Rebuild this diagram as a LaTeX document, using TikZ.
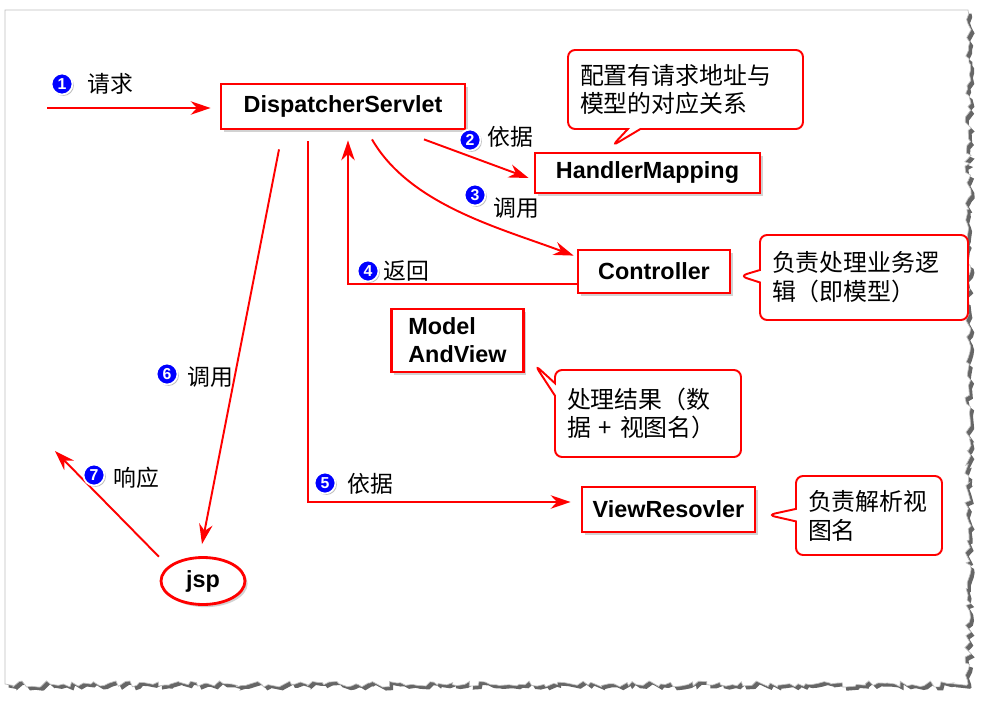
\documentclass[tikz,border=0pt]{standalone}
\usepackage{fontspec}
\setmainfont{Liberation Sans}
\newfontfamily\cjk{Noto Sans CJK SC}
\usetikzlibrary{arrows.meta,shapes.geometric,shapes.callouts,shadows,decorations.pathmorphing}
\tikzset{
	box/.style={draw=red,line width=1.6pt,fill=white,inner sep=0pt,
		drop shadow={shadow xshift=1.5pt,shadow yshift=-1.5pt,opacity=.35},
		font=\bfseries\fontsize{13.3}{16}\selectfont},
	note/.style={rectangle callout,draw=red,line width=1.1pt,fill=white,rounded corners=4pt,
		align=left,inner xsep=0.24cm,font=\cjk\fontsize{13.6}{16.4}\selectfont},
	flow/.style={draw=red,line width=1.1pt,-{Stealth[length=0.4cm,width=0.27cm]}},
	num/.style={circle,fill=blue,draw=white,line width=1pt,text=white,inner sep=0pt,
		minimum size=0.42cm,font=\bfseries\fontsize{9}{9}\selectfont,
		drop shadow={shadow xshift=.8pt,shadow yshift=-.8pt,opacity=.5}},
	lbl/.style={font=\cjk\fontsize{13}{15}\selectfont,inner sep=0pt}
}

\begin{document}
\begin{tikzpicture}[x=0.02cm,y=-0.02cm]
	\useasboundingbox (0,0) rectangle (994,703);
	%PAGE
	\pgfmathsetseed{7}
	\fill[white,draw=black!25,line width=.4pt,
		drop shadow={shadow xshift=2pt,shadow yshift=-2pt,opacity=.6,fill=black}]
		(5,10) -- (968,10) decorate[decoration={random steps,segment length=2.5pt,amplitude=1.8pt}]
		{-- (968,684) -- (5,684)} -- cycle;
	
	%BOXES
	\node[box,minimum width=4.88cm,minimum height=0.9cm]  (ds)  at (343,106.5) {DispatcherServlet};
	\node[box,minimum width=4.5cm,minimum height=0.8cm]   (hm)  at (647.5,173) {HandlerMapping};
	\node[box,minimum width=3.04cm,minimum height=0.86cm] (ct)  at (654,271.5) {Controller};
	\node[box,minimum width=2.64cm,minimum height=1.26cm,align=left] (mv) at (457.5,340.5) {Model\\AndView};
	\node[box,minimum width=3.46cm,minimum height=0.9cm]  (vr)  at (668.5,509.5) {ViewResovler};
	\node[box,ellipse,minimum width=1.68cm,minimum height=0.94cm] (jsp) at (203,581) {jsp};
	
	%NOTES
	\node[note,minimum width=4.7cm,minimum height=1.58cm,text width=4.22cm,
		callout absolute pointer={(612,146)}] (mapnote) at (685.5,89.5) {配置有请求地址与\\模型的对应关系};
	\node[note,minimum width=4.16cm,minimum height=1.7cm,text width=3.68cm,
		callout absolute pointer={(740,276)}] (ctnote) at (864,277.5) {负责处理业务逻\\辑（即模型）};
	\node[note,minimum width=3.72cm,minimum height=1.74cm,text width=3.24cm,
		callout absolute pointer={(535,365)}] (mvnote) at (648,413.5) {处理结果（数\\据 + 视图名）};
	\node[note,minimum width=2.92cm,minimum height=1.58cm,text width=2.44cm,
		callout absolute pointer={(768,515)}] (vrnote) at (869,515.5) {负责解析视\\图名};
	
	%ARROWS
	\coordinate (req)  at (47,108);
	\coordinate (resp) at (55,451);
	\draw[flow,shorten >=0.18cm] (req) -- (req -| ds.west);								%1
	\draw[flow] ([xshift=1.62cm,yshift=-0.18cm]ds.south) -- ([xshift=-0.1cm,yshift=-0.1cm]hm.west);	%2
	\draw[flow] ([xshift=0.58cm,yshift=-0.18cm]ds.south) .. controls (410,205) and (500,228) ..
				([xshift=-0.06cm,yshift=-0.14cm]ct.north west);						%3
	\draw[flow] ([yshift=-0.25cm]ct.west) -| ([xshift=0.1cm,yshift=-0.2cm]ds.south);		%4
	\draw[flow] ([xshift=-0.7cm,yshift=-0.22cm]ds.south) |- ([xshift=-0.2cm,yshift=0.15cm]vr.west);	%5
	\draw[flow] ([xshift=-1.28cm,yshift=-0.38cm]ds.south) -- ([xshift=-0.02cm,yshift=0.24cm]jsp.north);	%6
	\draw[flow] ([xshift=-0.15cm,yshift=0.22cm]jsp.160) -- (resp);						%7
	
	%LABELS
	\node[num] (n1) at (62,84)   {1};	\node[lbl] (t1) at (110,84)  {请求};
	\node[num] (n2) at (470,140) {2};	\node[lbl] (t2) at (510,137) {依据};
	\node[num] (n3) at (475,195) {3};	\node[lbl] (t3) at (516,208) {调用};
	\node[num] (n4) at (368,271) {4};	\node[lbl] (t4) at (406,271) {返回};
	\node[num] (n5) at (325,483) {5};	\node[lbl] (t5) at (370,484) {依据};
	\node[num] (n6) at (167,374) {6};	\node[lbl] (t6) at (210,377) {调用};
	\node[num] (n7) at (94,475)  {7};	\node[lbl] (t7) at (136,478) {响应};
\end{tikzpicture}
\end{document}
